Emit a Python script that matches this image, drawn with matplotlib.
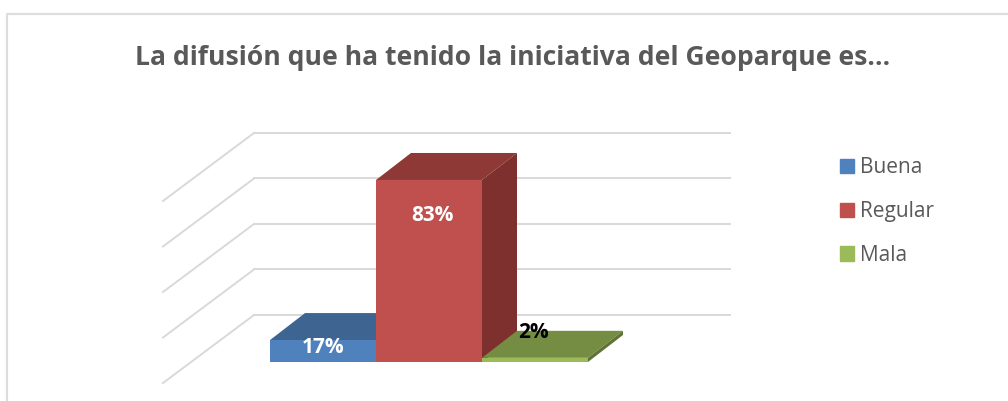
import matplotlib
matplotlib.use("Agg")
import matplotlib.pyplot as plt
from matplotlib.patches import Patch, Polygon

plt.rcParams['font.family'] = ['Open Sans', 'DejaVu Sans']

title = "La difusión que ha tenido la iniciativa del Geoparque es…"
categories = ["Buena", "Regular", "Mala"]
heights = [10, 83, 1.9]
labels = ["17%", "83%", "2%"]
grid_levels = [0, 20.75, 41.5, 62.25, 83]

front_colors = ["#4F81BD", "#C0504D", "#9BBB59"]
top_colors = ["#3E6491", "#8F3937", "#758D42"]
side_colors = ["#365679", "#7D302E", "#5F7335"]
label_colors = ["white", "white", "black"]
grid_color = "#D9D9D9"
text_color = "#595959"

# one category is 106 px wide, one value unit is 2.193 px high
px_x = 106.0
px_y = 2.193
dx = 35 / px_x
dy = 27 / px_y

fig = plt.figure(figsize=(10.08, 4.01), dpi=100)
ax = fig.add_axes([0, 0, 1, 1])
ax.set_xlim(-270 / px_x, 738 / px_x)
ax.set_ylim(-39 / px_y, 362 / px_y)
ax.axis("off")

# outer frame, only top and left show in the crop
ax.plot([7 / 1008, 7 / 1008, 1], [0, 1 - 14 / 401, 1 - 14 / 401], color="#DDDDDD",
        lw=1.6, transform=ax.transAxes, clip_on=False)

# walls
floor = 47 / px_y
for lev in grid_levels:
    ax.plot([-16 / px_x, 460 / px_x], [floor + lev, floor + lev], color=grid_color, lw=1.4, zorder=1)
    ax.plot([-107 / px_x, -16 / px_x], [floor + lev - 68 / px_y, floor + lev], color=grid_color, lw=1.4, zorder=1)

for i, h in enumerate(heights):
    z = 2 + i
    ax.add_patch(Polygon([(i, h), (i + 1, h), (i + 1 + dx, h + dy), (i + dx, h + dy)],
                         fc=top_colors[i], ec="none", zorder=z))
    ax.add_patch(Polygon([(i + 1, 0), (i + 1 + dx, dy), (i + 1 + dx, h + dy), (i + 1, h)],
                         fc=side_colors[i], ec="none", zorder=z))
    ax.bar(i + 0.5, h, width=1, color=front_colors[i], zorder=z)

# data labels
ax.text(0.5, heights[0] - 3.3, labels[0], color=label_colors[0], ha="center", va="center",
        fontsize=15, fontweight="bold", zorder=10)
ax.text(1.53, heights[1] - 16, labels[1], color=label_colors[1], ha="center", va="center",
        fontsize=15, fontweight="bold", zorder=10)
ax.text(2.49, heights[2] + 11.5, labels[2], color=label_colors[2], ha="center", va="center",
        fontsize=15, fontweight="bold", zorder=10)

ax.text(513 / 1008, 1 - 58 / 401, title, color=text_color, ha="center", va="center",
        fontsize=19.1, fontweight="bold", transform=ax.transAxes)

handles = [Patch(color=c, label=n) for c, n in zip(front_colors, categories)]
ax.legend(handles=handles, loc="upper left", bbox_to_anchor=(840 / 1008, 1 - 157 / 401),
          frameon=False, fontsize=15, labelcolor=text_color, handlelength=0.67,
          handleheight=0.67, handletextpad=0.3, labelspacing=1.1, borderpad=0, borderaxespad=0)

fig.savefig("out.png", dpi=100)
